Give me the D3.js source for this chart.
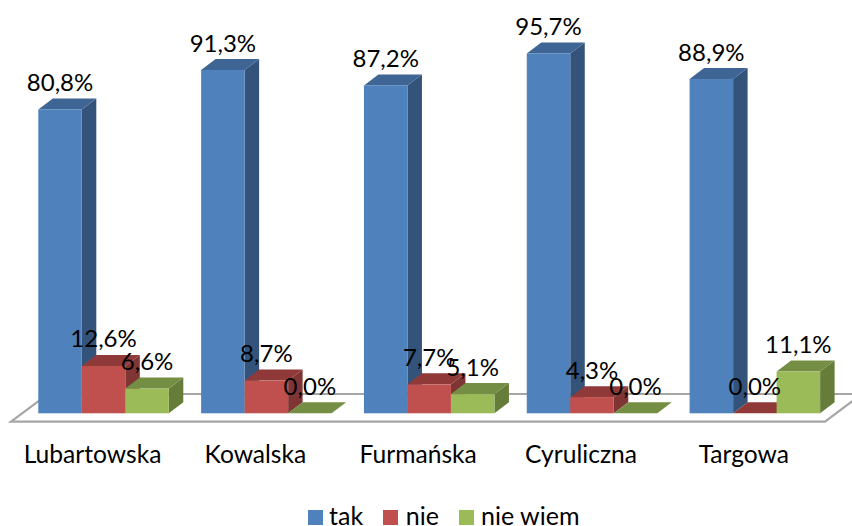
<!DOCTYPE html>
<html><head><meta charset="utf-8">
<script src="https://cdn.jsdelivr.net/npm/d3@7/dist/d3.min.js"></script>
<style>html,body{margin:0;padding:0;background:#fff}svg{display:block}text{font-family:Lato,"Open Sans",sans-serif;fill:#000}</style>
</head><body><div id="chart"></div>
<script>
const categories = ["Lubartowska","Kowalska","Furmańska","Cyruliczna","Targowa"];
const seriesNames = ["tak","nie","nie wiem"];
const tak = [80.8,91.3,87.2,95.7,88.9];
const nie = [12.6,8.7,7.7,4.3,0.0];
const nieWiem = [6.6,0.0,5.1,0.0,11.1];
const seriesValues = [tak,nie,nieWiem];
const faceColors = ["#4F81BD","#C0504D","#9BBB59"];
const topColors = ["#3E6594","#8F3A38","#748E43"];
const sideColors = ["#33537A","#7F3533","#667D3A"];

const W=852,H=526,dx=14.5,dy=11,valFs=24,catFs=24.6,legFs=25;
const svg=d3.select("#chart").append("svg").attr("width",W).attr("height",H);
const x0=d3.scaleBand().domain(categories).range([38.3,820.1]).paddingInner(0.1985).paddingOuter(0);
const x1=d3.scaleBand().domain(seriesNames).range([0,x0.bandwidth()]);
const y=d3.scaleLinear().domain([0,100]).range([413.3,37.3]);
const fmt=v=>d3.format(".1f")(v).replace(".",",")+"%";

// floor
svg.append("path").attr("d","M11,421.7L48,394L862,394L825,421.7Z")
  .attr("fill","#fff").attr("stroke","#A6A6A6").attr("stroke-width",2.2);

const rows=categories.flatMap((c,i)=>seriesNames.map((s,j)=>({c,s,j,v:seriesValues[j][i]})));
const bars=svg.selectAll("g.bar").data(rows).join("g").attr("class","bar");
bars.append("path").attr("fill",d=>sideColors[d.j]).attr("d",d=>{
  const r=x0(d.c)+x1(d.s)+x1.bandwidth(),t=y(d.v),b=y(0);
  return `M${r},${t}L${r+dx},${t-dy}L${r+dx},${b-dy}L${r},${b}Z`;});
bars.append("path").attr("fill",d=>topColors[d.j]).attr("d",d=>{
  const l=x0(d.c)+x1(d.s),r=l+x1.bandwidth(),t=y(d.v);
  return `M${l},${t}L${l+dx},${t-dy}L${r+dx},${t-dy}L${r},${t}Z`;});
bars.append("rect").attr("fill",d=>faceColors[d.j])
  .attr("x",d=>x0(d.c)+x1(d.s)).attr("y",d=>y(d.v))
  .attr("width",x1.bandwidth()).attr("height",d=>y(0)-y(d.v));

svg.selectAll("text.val").data(rows).join("text").attr("class","val")
  .attr("x",d=>x0(d.c)+x1(d.s)+x1.bandwidth()/2)
  .attr("y",d=>y(d.v)-18.5).attr("text-anchor","middle").attr("font-size",valFs)
  .text(d=>fmt(d.v));

svg.selectAll("text.cat").data(categories).join("text").attr("class","cat")
  .attr("x",c=>x0(c)+x0.bandwidth()/2-11).attr("y",463).attr("text-anchor","middle")
  .attr("font-size",catFs).text(c=>c);

const legendX=[308,383,459],legendTextX=[329,405.7,481];
const lg=svg.selectAll("g.lg").data(seriesNames).join("g").attr("class","lg");
lg.append("rect").attr("x",(d,i)=>legendX[i]).attr("y",510).attr("width",15).attr("height",15).attr("fill",(d,i)=>faceColors[i]);
lg.append("text").attr("x",(d,i)=>legendTextX[i]).attr("y",524.5).attr("font-size",legFs).text(d=>d);
</script></body></html>
